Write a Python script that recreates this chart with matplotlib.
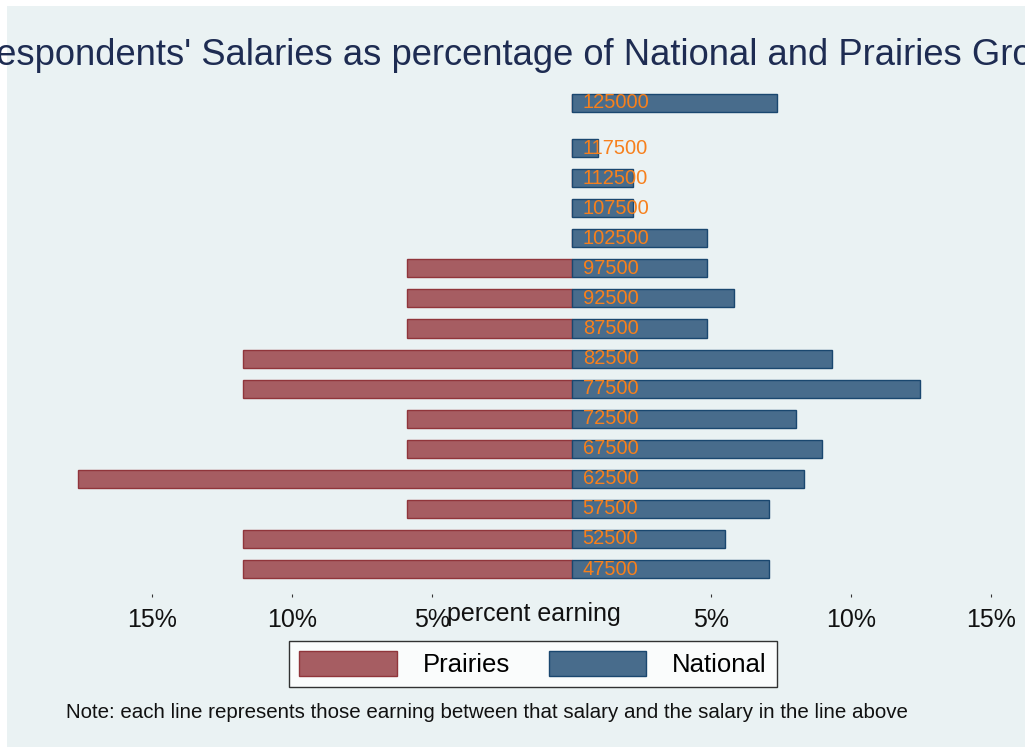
import numpy as np
import matplotlib
matplotlib.use("Agg")
import matplotlib.pyplot as plt
from matplotlib.patches import Patch, Rectangle

# salary band (lower bound) and share of respondents in each band, in percent
salary = [47500, 52500, 57500, 62500, 67500, 72500, 77500, 82500,
          87500, 92500, 97500, 102500, 107500, 112500, 117500, 125000]
prairies = [11.76, 11.76, 5.88, 17.65, 5.88, 5.88, 11.76, 11.76,
            5.88, 5.88, 5.88, 0, 0, 0, 0, 0]
national = [7.07, 5.5, 7.07, 8.3, 8.96, 8.04, 12.46, 9.32,
            4.86, 5.79, 4.86, 4.86, 2.2, 2.2, 0.96, 7.36]

ticks = [-15, -10, -5, 5, 10, 15]

bg = "#EAF2F3"
maroon_fill, maroon_edge = "#A65D62", "#90353B"
navy_fill, navy_edge = "#486C8C", "#1A476F"
label_color = "#F7801C"

plt.rcParams["font.family"] = ["Liberation Sans", "DejaVu Sans"]

W, H = 1025, 747
fig = plt.figure(figsize=(W / 100, H / 100), dpi=100)
fig.patch.set_facecolor("white")
fig.patches.append(Rectangle((7 / W, 0), 1, (H - 6) / H, transform=fig.transFigure,
                             facecolor=bg, edgecolor="none", zorder=-10))

ax = fig.add_axes([7 / W, (H - 594) / H, (W - 7) / W, (594 - 85) / H])
ax.set_facecolor("none")
for s in ax.spines.values():
    s.set_visible(False)

bar_h = 3000
ax.barh(salary, [-p for p in prairies], height=bar_h, color=maroon_fill,
        edgecolor=maroon_edge, linewidth=1.0)
ax.barh(salary, national, height=bar_h, color=navy_fill,
        edgecolor=navy_edge, linewidth=1.0)

for s in salary:
    ax.text(0.4, s, str(s), color=label_color, fontsize=14.5, va="center", ha="left")

ax.set_xlim(-20.18, 16.21)
ax.set_ylim(43343, 127993)
ax.set_yticks([])
ax.set_xticks(ticks)
ax.set_xticklabels([f"{abs(t)}%" for t in ticks], fontsize=18, color="#111111")
ax.tick_params(axis="x", length=2, width=0.8, color="#333333", pad=8)

fig.text(534 / W, 1 - 614 / H, "percent earning", fontsize=18, color="#111111",
         ha="center", va="center")

# the title is wider than the graph region, as in the original export
fig.text(522 / W, 1 - 65 / H,
         "Respondents' Salaries as percentage of National and Prairies Group",
         fontsize=26.2, color="#1E2C52", ha="center", va="baseline")

handles = [Patch(facecolor=maroon_fill, edgecolor=maroon_edge, label="Prairies"),
           Patch(facecolor=navy_fill, edgecolor=navy_edge, label="National")]
leg = fig.legend(handles=handles, ncol=2, loc="center",
                 bbox_to_anchor=(533 / W, 1 - 664 / H), fontsize=18.5,
                 frameon=True, fancybox=False, edgecolor="black",
                 handlelength=3.8, handleheight=1.1, handletextpad=1.0,
                 columnspacing=1.5, borderpad=0.4, borderaxespad=0)
leg.get_frame().set_linewidth(1.0)
leg.get_frame().set_facecolor("white")

fig.text(66 / W, 1 - 712 / H,
         "Note: each line represents those earning between that salary and the salary in the line above",
         fontsize=14.8, color="#111111", ha="left", va="center")

fig.savefig("out.png", dpi=100, facecolor=fig.get_facecolor())
